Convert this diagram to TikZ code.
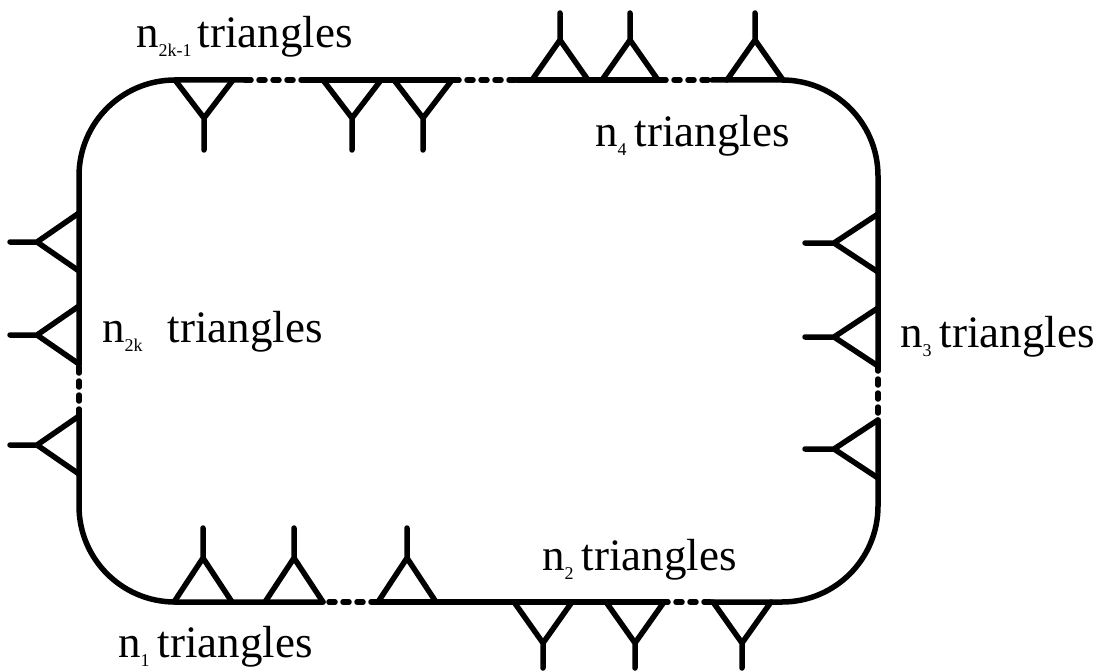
\documentclass[tikz,border=0pt]{standalone}
\usepackage{fontspec}
\setmainfont{Liberation Serif}
\newcommand\lsub[1]{\raisebox{-9pt}{\fontsize{18}{18}\selectfont #1}}
\begin{document}
\begin{tikzpicture}[x=1pt,y=-1pt,
  edge/.style={line width=5.5pt,line cap=round,line join=round},
  gap/.style={edge,dash pattern=on 6pt off 8pt},
  lbl/.style={anchor=base west,inner sep=0pt,font=\fontsize{45}{50}\selectfont}]
\useasboundingbox (0,0) rectangle (1094,671);
% outline
\draw[edge] (79,365) -- (79,176) .. controls (79,123) and (122,80) .. (175,80) -- (245,80);
\draw[gap] (245,80) -- (307,80);
\draw[edge] (307,80) -- (453,80);
\draw[gap] (453,80) -- (517,80);
\draw[edge] (517,80) -- (660,80);
\draw[gap] (660,80) -- (712,80);
\draw[edge] (712,80) -- (782,80) .. controls (835,80) and (878,123) .. (878,176) -- (878,365);
\draw[gap] (878,365) -- (878,420);
\draw[edge] (878,420) -- (878,506) .. controls (878,559) and (835,602) .. (782,602) -- (710,602);
\draw[gap] (710,602) -- (663,602);
\draw[edge] (663,602) -- (377,602);
\draw[gap] (377,602) -- (323,602);
\draw[edge] (323,602) -- (175,602) .. controls (122,602) and (79,559) .. (79,506) -- (79,415);
\draw[gap] (79,415) -- (79,365);
% top, pointing down
\foreach \c in {204,352,423}
  \draw[edge] (\c-29,80) -- (\c,118) -- (\c+29,80) (\c,118) -- (\c,150);
% top, pointing up
\foreach \c in {560,630,755}
  \draw[edge] (\c-28,80) -- (\c,40) -- (\c+28,80) (\c,40) -- (\c,13);
% right
\foreach \c in {243,337,449}
  \draw[edge] (878,\c-29) -- (834,\c) -- (878,\c+29) (834,\c) -- (805,\c);
% left
\foreach \c in {242,335,445}
  \draw[edge] (79,\c-29) -- (37,\c) -- (79,\c+29) (37,\c) -- (10,\c);
% bottom, pointing up
\foreach \c in {203,294,407}
  \draw[edge] (\c-29,602) -- (\c,558) -- (\c+29,602) (\c,558) -- (\c,528);
% bottom, pointing down
\foreach \c in {543,635,742}
  \draw[edge] (\c-29,602) -- (\c,643) -- (\c+29,602) (\c,643) -- (\c,668);
% labels
\node[lbl] (l1) at (118,657) {n\lsub{1}\hspace{8pt}triangles};
\node[lbl] (l2) at (542,570) {n\lsub{2}\hspace{8pt}triangles};
\node[lbl] (l3) at (900,347) {n\lsub{3}\hspace{8pt}triangles};
\node[lbl] (l4) at (595,147) {n\lsub{4}\hspace{8pt}triangles};
\node[lbl] (l2k1) at (136,48) {n\lsub{2k-1}\hspace{6pt}triangles};
\node[lbl] (l2k) at (102,342) {n\lsub{2k}\hspace{25pt}triangles};
\end{tikzpicture}
\end{document}
